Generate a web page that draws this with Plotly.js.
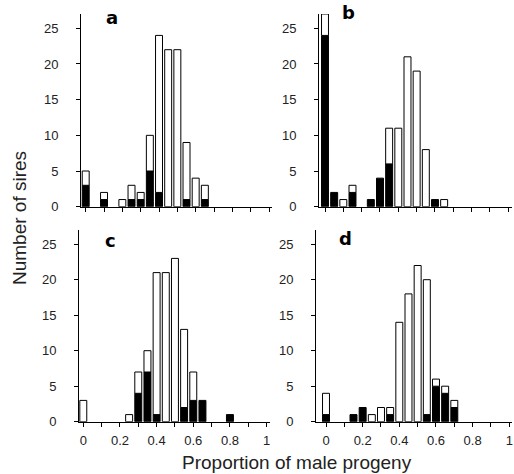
<!DOCTYPE html>
<html>
<head>
<meta charset="utf-8">
<script src="https://cdn.plot.ly/plotly-3.0.1.min.js"></script>
<style>html,body{margin:0;padding:0;background:#fff;}#chart{width:514px;height:474px;}</style>
</head>
<body>
<div id="chart"></div>
<script>
// Bin positions (proportion of male progeny), total sires per bin, and black (filled) part per bin
const aX     = [0, 0.1, 0.2, 0.25, 0.3, 0.35, 0.4, 0.45, 0.5, 0.55, 0.6, 0.65];
const aTotal = [5, 2, 1, 3, 2, 10, 24, 22, 22, 9, 4, 3];
const aBlack = [3, 1, 0, 1, 1, 5, 2, 0, 0, 1, 0, 1];

const bX     = [0, 0.05, 0.1, 0.15, 0.25, 0.3, 0.35, 0.4, 0.45, 0.5, 0.55, 0.6, 0.65];
const bTotal = [27, 2, 1, 3, 1, 4, 11, 11, 21, 19, 8, 1, 1];
const bBlack = [24, 2, 0, 2, 1, 4, 6, 0, 0, 0, 0, 1, 0];

const cX     = [0, 0.25, 0.3, 0.35, 0.4, 0.45, 0.5, 0.55, 0.6, 0.65, 0.8];
const cTotal = [3, 1, 7, 10, 21, 21, 23, 13, 7, 3, 1];
const cBlack = [0, 0, 4, 7, 1, 0, 0, 2, 3, 3, 1];

const dX     = [0, 0.15, 0.2, 0.25, 0.3, 0.35, 0.4, 0.45, 0.5, 0.55, 0.6, 0.65, 0.7];
const dTotal = [4, 1, 2, 1, 2, 2, 14, 18, 22, 20, 6, 5, 3];
const dBlack = [1, 1, 2, 0, 0, 1, 0, 0, 0, 1, 5, 4, 2];

const panelLetters = ['a', 'b', 'c', 'd'];
const xTickVals = [0, 0.1, 0.2, 0.3, 0.4, 0.5, 0.6, 0.7, 0.8, 0.9, 1];
const xTickText = ['0', '', '0.2', '', '0.4', '', '0.6', '', '0.8', '', '1'];
const yTickVals = [0, 5, 10, 15, 20, 25];
const yTitle = 'Number of sires';
const xTitle = 'Proportion of male progeny';

const panels = [
  {x: aX, total: aTotal, black: aBlack},
  {x: bX, total: bTotal, black: bBlack},
  {x: cX, total: cTotal, black: cBlack},
  {x: dX, total: dTotal, black: dBlack}
];

const BW = 0.038;
const traces = [];
panels.forEach((p, i) => {
  const sfx = i === 0 ? '' : String(i + 1);
  const blk = p.black.map(v => v > 0 ? v : null);
  const wht = p.total.map((t, j) => (t - p.black[j]) > 0 ? (t - p.black[j]) : null);
  traces.push({
    type: 'bar', x: p.x, y: blk, width: BW,
    xaxis: 'x' + sfx, yaxis: 'y' + sfx,
    marker: {color: '#000', line: {color: '#000', width: 1}},
    hoverinfo: 'skip', showlegend: false
  });
  traces.push({
    type: 'bar', x: p.x, y: wht, width: BW, base: p.black,
    xaxis: 'x' + sfx, yaxis: 'y' + sfx,
    marker: {color: '#fff', line: {color: '#000', width: 1}},
    hoverinfo: 'skip', showlegend: false
  });
});

const W = 514, H = 474, S = 183.3;
const px = v => v / W;
const py = v => 1 - v / H;
// panel geometry in pixels: left, tick-zero, right, top, bottom
const geo = [
  {L: 81,  t0: 85.7, R: 272, T: 14,  B: 206.7},
  {L: 319, t0: 325,  R: 512, T: 14,  B: 206.7},
  {L: 79,  t0: 83.3, R: 270, T: 230, B: 421.7},
  {L: 316, t0: 326,  R: 512, T: 230, B: 421.7}
];
const FAM = "'Liberation Sans', Arial, Helvetica, sans-serif";
const tickFont = {family: FAM, size: 13, color: '#222'};

const layout = {
  width: W, height: H,
  margin: {l: 0, r: 0, t: 0, b: 0},
  paper_bgcolor: '#fff', plot_bgcolor: 'rgba(0,0,0,0)',
  barmode: 'overlay',
  showlegend: false,
  annotations: [],
  font: tickFont
};

geo.forEach((g, i) => {
  const sfx = i === 0 ? '' : String(i + 1);
  const bottom = i >= 2;
  layout['xaxis' + sfx] = {
    domain: [px(g.L), px(g.R)],
    range: [(g.L - g.t0) / S, (g.R - g.t0) / S],
    anchor: 'y' + sfx,
    showgrid: false, zeroline: false,
    showline: true, linecolor: '#000', linewidth: 1,
    ticks: 'outside', ticklen: 4, tickwidth: 1, tickcolor: '#000',
    tickmode: 'array', tickvals: xTickVals, ticktext: xTickText,
    showticklabels: bottom, tickfont: tickFont, ticklabelstandoff: 3,
    fixedrange: true
  };
  layout['yaxis' + sfx] = {
    domain: [py(g.B), py(g.T)],
    range: [0, 27],
    anchor: 'x' + sfx,
    showgrid: false, zeroline: false,
    showline: true, linecolor: '#000', linewidth: 1,
    ticks: 'outside', ticklen: 4, tickwidth: 1, tickcolor: '#000',
    tickmode: 'array', tickvals: yTickVals,
    tickfont: tickFont, ticklabelstandoff: 15,
    fixedrange: true
  };
});

const letterPos = [[112, 17], [348, 12], [110, 240], [345, 238]];
panelLetters.forEach((t, i) => {
  layout.annotations.push({
    text: '<b>' + t + '</b>', xref: 'paper', yref: 'paper',
    x: px(letterPos[i][0]), y: py(letterPos[i][1]),
    xanchor: 'center', yanchor: 'middle', showarrow: false,
    font: {family: "'DejaVu Sans', sans-serif", size: 18, color: '#000'}
  });
});
layout.annotations.push({
  text: yTitle, xref: 'paper', yref: 'paper',
  x: px(20), y: py(218), textangle: -90,
  xanchor: 'center', yanchor: 'middle', showarrow: false,
  font: {family: FAM, size: 19, color: '#222'}
});
layout.annotations.push({
  text: xTitle, xref: 'paper', yref: 'paper',
  x: px(297), y: py(462),
  xanchor: 'center', yanchor: 'middle', showarrow: false,
  font: {family: FAM, size: 19, color: '#222'}
});

Plotly.newPlot('chart', traces, layout, {staticPlot: true, displayModeBar: false});
</script>
</body>
</html>
